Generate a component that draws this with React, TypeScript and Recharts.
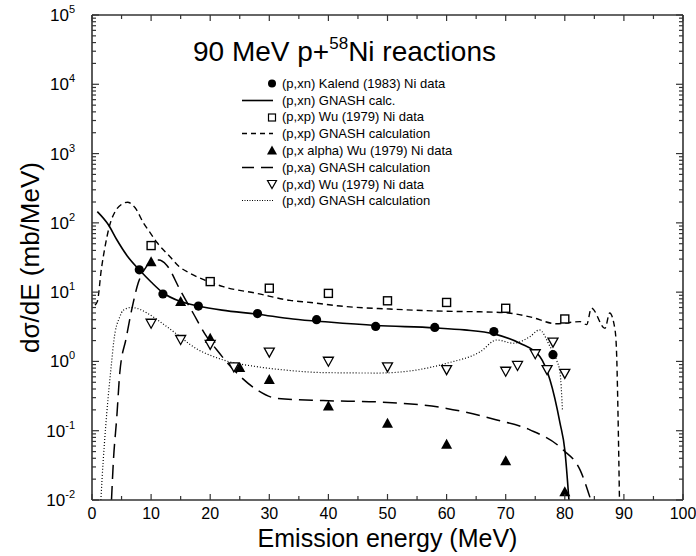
import React from 'react';
import { ComposedChart, Line, Scatter, XAxis, YAxis, Legend } from 'recharts';

const FONT = '"Liberation Sans", Arial, Helvetica, sans-serif';
const INK = '#000';
const FRAME = '#333';

// measured points (MeV, mb/MeV)
const kalendE = [8, 12, 18, 28, 38, 48, 58, 68, 78];
const kalendV = [21, 9.4, 6.3, 4.9, 4.0, 3.2, 3.1, 2.7, 1.25];
const wuPE = [10, 20, 30, 40, 50, 60, 70, 80];
const wuPV = [47, 14.2, 11.4, 9.6, 7.5, 7.1, 5.85, 4.1];
const wuAE = [10, 15, 20, 25, 30, 40, 50, 60, 70, 80];
const wuAV = [27.5, 7.3, 2.16, 0.82, 0.55, 0.228, 0.128, 0.064, 0.037, 0.0132];
const wuDE = [10, 15, 20, 24, 30, 40, 50, 60, 70, 72, 75, 77, 78, 80];
const wuDV = [3.5, 2.04, 1.73, 0.82, 1.34, 0.99, 0.82, 0.75, 0.71, 0.86, 1.27, 0.75, 1.87, 0.66];

// GNASH calculations
const xnCalcE = [0.9, 2.8, 4.2, 6, 8, 10, 12, 15, 18, 22, 28, 34, 40, 48, 58, 63, 68, 72.4, 75.8, 77.5, 79.2, 80, 80.7];
const xnCalcV = [145, 93, 57, 33, 21, 14, 9.8, 7.3, 6.3, 5.5, 4.8, 4.1, 3.7, 3.3, 3.05, 2.85, 2.5, 1.83, 1.17, 0.54, 0.128, 0.053, 0.01];
const xpCalcE = [0.5, 0.9, 1.6, 2.2, 3.0, 3.9, 5.0, 6.0, 7.3, 8.7, 9.8, 11, 13.2, 14.6, 16.6, 19, 22.2, 27.9, 33.5, 37, 42, 50.4, 60, 65.6, 69.8, 74.1, 78.6, 82.6, 83.7, 84.5, 86.8, 87.6, 88.5, 88.8, 89.0, 89.25];
const xpCalcV = [6.5, 7.3, 22, 45, 93, 145, 185, 198, 165, 100, 73, 52, 32.5, 24, 18.7, 15, 12, 9.6, 7.6, 7.1, 6.3, 5.7, 5.3, 5.2, 5.06, 4.4, 3.5, 3.75, 3.4, 5.9, 3.0, 5.0, 2.85, 1.05, 0.18, 0.01];
const xaCalcE = [3.3, 3.6, 4.2, 4.7, 5.8, 6.7, 7.8, 9, 10.3, 11.3, 12.6, 14.9, 17.1, 19.4, 21.1, 24.5, 27.9, 31.2, 39.1, 48.4, 60, 68.5, 74.1, 79.7, 82.6, 84.4];
const xaCalcV = [0.01, 0.034, 0.16, 0.68, 2.2, 5.5, 13.4, 22, 29, 29, 24.7, 10.8, 5.0, 2.28, 1.47, 0.68, 0.39, 0.294, 0.272, 0.26, 0.21, 0.143, 0.103, 0.053, 0.027, 0.01];
const xdCalcE = [1.5, 1.7, 2.5, 3.3, 3.7, 4.7, 5.3, 6.6, 8, 9.3, 12.6, 14.9, 16.6, 22.2, 27.9, 33.5, 39.1, 48.4, 54.4, 60, 65.7, 68.5, 71.3, 74.1, 75.7, 77.5, 78.6, 79.2, 79.6];
const xdCalcV = [0.01, 0.02, 0.18, 0.94, 2.0, 4.4, 5.5, 6.0, 5.7, 5.0, 3.2, 2.28, 1.75, 1.05, 0.84, 0.74, 0.69, 0.68, 0.74, 0.94, 1.38, 2.04, 1.83, 2.28, 2.85, 1.64, 1.05, 0.68, 0.2];

// axes
const xTicks = [0, 5, 10, 15, 20, 25, 30, 35, 40, 45, 50, 55, 60, 65, 70, 75, 80, 85, 90, 95, 100];
const yDecades = [0.01, 0.1, 1, 10, 100, 1000, 10000, 100000];
const yExponents = ['-2', '-1', '0', '1', '2', '3', '4', '5'];
const minorSteps = [2, 3, 4, 5, 6, 7, 8, 9];
const yTicks = yDecades.flatMap((d, i) => (i < yDecades.length - 1 ? [d, ...minorSteps.map(m => d * m)] : [d]));

const legendRows = [
  { label: '(p,xn) Kalend (1983) Ni data', kind: 'circle' },
  { label: '(p,xn) GNASH calc.', kind: 'solid' },
  { label: '(p,xp) Wu (1979) Ni data', kind: 'square' },
  { label: '(p,xp) GNASH calculation', kind: 'dash' },
  { label: '(p,x alpha) Wu (1979) Ni data', kind: 'triUp' },
  { label: '(p,xa) GNASH calculation', kind: 'longdash' },
  { label: '(p,xd) Wu (1979) Ni data', kind: 'triDown' },
  { label: '(p,xd) GNASH calculation', kind: 'dot' },
];

const pts = (e: number[], v: number[]) => e.map((x, i) => ({ x, y: v[i] }));

const decadeIndex = (v: number) => yDecades.findIndex(d => Math.abs(d - v) / d < 1e-6);

const LeftTick = (p: any) => {
  const idx = decadeIndex(p.payload.value);
  const major = idx >= 0;
  return (
    <g>
      <line x1={p.x} x2={p.x + (major ? 7 : 4)} y1={p.y} y2={p.y} stroke={FRAME} strokeWidth={1.2} />
      {major && (
        <text x={p.x - 17} y={p.y + 6} textAnchor="end" fontFamily={FONT} fontSize={17} fill={INK}>
          10<tspan dy={-8} fontSize={11}>{yExponents[idx]}</tspan>
        </text>
      )}
    </g>
  );
};

const RightTick = (p: any) => {
  const major = decadeIndex(p.payload.value) >= 0;
  return <line x1={p.x} x2={p.x - (major ? 7 : 4)} y1={p.y} y2={p.y} stroke={FRAME} strokeWidth={1.2} />;
};

const BottomTick = (p: any) => {
  const v = p.payload.value;
  const major = v % 10 === 0;
  return (
    <g>
      <line x1={p.x} x2={p.x} y1={p.y} y2={p.y - (major ? 6 : 4)} stroke={FRAME} strokeWidth={1.2} />
      {major && (
        <text x={p.x} y={p.y + 19} textAnchor="middle" fontFamily={FONT} fontSize={16} fill={INK}>
          {v}
        </text>
      )}
    </g>
  );
};

const TopTick = (p: any) => {
  const major = p.payload.value % 10 === 0;
  return <line x1={p.x} x2={p.x} y1={p.y} y2={p.y + (major ? 6 : 4)} stroke={FRAME} strokeWidth={1.2} />;
};

const DotShape = (p: any) => <circle cx={p.cx} cy={p.cy} r={4.6} fill={INK} />;
const SquareShape = (p: any) => (
  <rect x={p.cx - 4} y={p.cy - 4} width={8} height={8} fill="#fff" stroke={INK} strokeWidth={1.4} />
);
const TriUpShape = (p: any) => (
  <polygon points={`${p.cx},${p.cy - 5.5} ${p.cx - 5.5},${p.cy + 4.5} ${p.cx + 5.5},${p.cy + 4.5}`} fill={INK} />
);
const TriDownShape = (p: any) => (
  <polygon points={`${p.cx - 5},${p.cy - 4.5} ${p.cx + 5},${p.cy - 4.5} ${p.cx},${p.cy + 4.5}`} fill="#fff" stroke={INK} strokeWidth={1.3} />
);

const Swatch = ({ kind }: { kind: string }) => {
  const cy = 8.5;
  let mark: React.ReactNode = null;
  if (kind === 'circle') mark = <circle cx={34} cy={cy} r={4} fill={INK} />;
  if (kind === 'square') mark = <rect x={30.5} y={cy - 3.5} width={7} height={7} fill="none" stroke={INK} strokeWidth={1.2} />;
  if (kind === 'triUp') mark = <polygon points={`34,${cy - 5} 29,${cy + 4} 39,${cy + 4}`} fill={INK} />;
  if (kind === 'triDown') mark = <polygon points={`29.5,${cy - 4} 38.5,${cy - 4} 34,${cy + 4}`} fill="none" stroke={INK} strokeWidth={1.2} />;
  const dash: Record<string, string | undefined> = { solid: undefined, dash: '5 4', longdash: '12 7', dot: '1 1.5' };
  if (kind in dash) {
    mark = <line x1={4} x2={35} y1={cy} y2={cy} stroke={INK} strokeWidth={kind === 'dot' ? 1.1 : 1.6} strokeDasharray={dash[kind]} />;
  }
  return <svg width={40} height={17} style={{ display: 'block' }}>{mark}</svg>;
};

const LegendBox = () => (
  <div style={{ fontFamily: FONT, fontSize: 13, color: INK }}>
    {legendRows.map(r => (
      <div key={r.label} style={{ display: 'flex', alignItems: 'center', height: 16.8 }}>
        <Swatch kind={r.kind} />
        <span style={{ marginLeft: 4, whiteSpace: 'nowrap' }}>{r.label}</span>
      </div>
    ))}
  </div>
);

const XTitle = (p: any) => {
  const vb = p.viewBox;
  return (
    <text x={vb.x + vb.width / 2} y={vb.y + 47} textAnchor="middle" fontFamily={FONT} fontSize={25} fill={INK}>
      Emission energy (MeV)
    </text>
  );
};

const YTitle = (p: any) => {
  const vb = p.viewBox;
  const cx = vb.x - 2;
  const cy = vb.y + vb.height / 2;
  return (
    <text x={cx} y={cy} transform={`rotate(-90 ${cx} ${cy})`} textAnchor="middle" dominantBaseline="central" fontFamily={FONT} fontSize={26} fill={INK}>
      dσ/dE (mb/MeV)
    </text>
  );
};

export default function App() {
  const frame = { stroke: FRAME, strokeWidth: 1.6 };
  return (
    <div style={{ position: 'relative', width: 696, height: 556, overflow: 'hidden' }}>
      <style>{'body { margin: 0; }'}</style>
      <div style={{ position: 'absolute', left: 193, top: 37, fontFamily: FONT, fontSize: 28, color: INK, whiteSpace: 'nowrap', lineHeight: '30px', zIndex: 2 }}>
        90 MeV p+<span style={{ fontSize: 17, position: 'relative', top: -12 }}>58</span>Ni reactions
      </div>
      <ComposedChart width={696} height={556} margin={{ top: 15, right: 13, bottom: 26, left: 32 }}>
        <XAxis dataKey="x" type="number" domain={[0, 100]} ticks={xTicks} interval={0} allowDataOverflow
          tickSize={0} tickMargin={0} tickLine={false} tick={BottomTick} axisLine={frame} height={30} label={XTitle} />
        <XAxis xAxisId="top" orientation="top" mirror dataKey="x" type="number" domain={[0, 100]} ticks={xTicks}
          interval={0} allowDataOverflow tickSize={0} tickMargin={0} tickLine={false} tick={TopTick} axisLine={frame} height={1} />
        <YAxis dataKey="y" scale="log" type="number" domain={[0.01, 100000]} ticks={yTicks} interval={0} allowDataOverflow
          tickSize={0} tickMargin={0} tickLine={false} tick={LeftTick} axisLine={frame} width={60} label={YTitle} />
        <YAxis yAxisId="right" orientation="right" mirror dataKey="y" scale="log" type="number" domain={[0.01, 100000]}
          ticks={yTicks} interval={0} allowDataOverflow tickSize={0} tickMargin={0} tickLine={false} tick={RightTick} axisLine={frame} width={1} />

        <Line data={pts(xnCalcE, xnCalcV)} dataKey="y" type="monotone" stroke={INK} strokeWidth={1.6} dot={false} activeDot={false} legendType="none" isAnimationActive={false} />
        <Line data={pts(xpCalcE, xpCalcV)} dataKey="y" type="monotone" stroke={INK} strokeWidth={1.4} strokeDasharray="6 4" dot={false} activeDot={false} legendType="none" isAnimationActive={false} />
        <Line data={pts(xaCalcE, xaCalcV)} dataKey="y" type="monotone" stroke={INK} strokeWidth={1.5} strokeDasharray="14 7" dot={false} activeDot={false} legendType="none" isAnimationActive={false} />
        <Line data={pts(xdCalcE, xdCalcV)} dataKey="y" type="monotone" stroke={INK} strokeWidth={1.2} strokeDasharray="1 2" dot={false} activeDot={false} legendType="none" isAnimationActive={false} />

        <Scatter data={pts(kalendE, kalendV)} dataKey="y" shape={DotShape} legendType="none" isAnimationActive={false} />
        <Scatter data={pts(wuPE, wuPV)} dataKey="y" shape={SquareShape} legendType="none" isAnimationActive={false} />
        <Scatter data={pts(wuAE, wuAV)} dataKey="y" shape={TriUpShape} legendType="none" isAnimationActive={false} />
        <Scatter data={pts(wuDE, wuDV)} dataKey="y" shape={TriDownShape} legendType="none" isAnimationActive={false} />

        <Legend layout="vertical" verticalAlign="middle" align="center" content={() => <LegendBox />}
          wrapperStyle={{ left: 238, top: 75, width: 280 }} />
      </ComposedChart>
    </div>
  );
}
